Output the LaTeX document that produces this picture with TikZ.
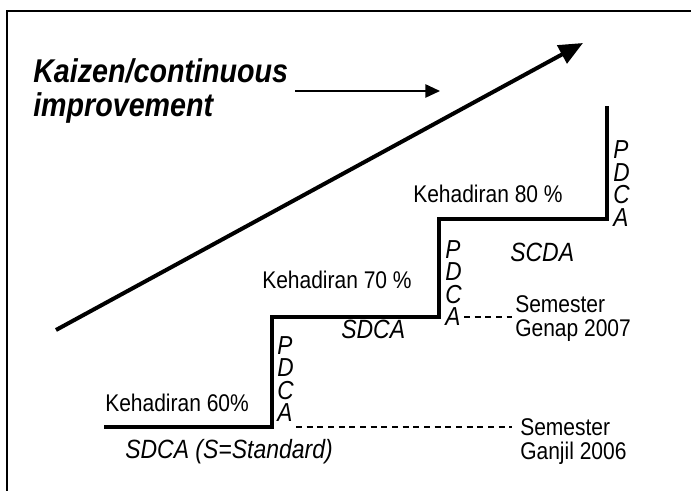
\documentclass[tikz,border=0pt]{standalone}
\usepackage{fontspec}
\setmainfont{Liberation Sans}
\newfontfamily\narrowsans[FakeStretch=0.87]{Liberation Sans}
\usetikzlibrary{arrows.meta}
\tikzset{
  stair/.style={line width=3pt},
  lbl/.style={inner sep=0pt, anchor=base west, font=\narrowsans\fontsize{18.1}{20}\selectfont},
  slbl/.style={inner sep=0pt, anchor=base west, font=\narrowsans\fontsize{19.8}{22}\selectfont\itshape},
  pdca/.style={inner sep=0pt, anchor=north west, align=left, font=\narrowsans\fontsize{19.5}{16.875}\selectfont\itshape},
  kaizen/.style={inner sep=0pt, anchor=base west, font=\narrowsans\fontsize{24.7}{28}\selectfont\bfseries\itshape},
  guide/.style={line width=0.8pt, dash pattern=on 4.5pt off 3.5pt}
}
\begin{document}
\begin{tikzpicture}[x=0.75pt,y=-0.75pt]
\useasboundingbox (0,0) rectangle (691,491);
\clip (0,0) rectangle (691,491);
\draw[line width=1pt] (7,11) rectangle (720,520);

% title and the rising arrow
\node[kaizen] (kz1) at (33,83) {Kaizen/continuous};
\node[kaizen] (kz2) at (33,117) {improvement};
\coordinate (ka) at (295,91);
\coordinate (kb) at (440,91);
\draw[line width=1.2pt, -{Triangle[length=11pt,width=10pt]}] (ka) -- (kb);

\coordinate (rise0) at (56,330);
\coordinate (rise1) at (583,43);
\draw[line width=3pt, -{Triangle[length=18pt,width=15pt]}] (rise0) -- (rise1);

% the steps
\draw[stair] (104,427) -| (272,317) -| (439,219) -| (607,106);

\node[lbl] (k60) at (105,411) {Kehadiran 60\%};
\node[lbl] (k70) at (262,288) {Kehadiran 70 \%};
\node[lbl] (k80) at (413,203) {Kehadiran 80 \%};

\node[slbl] (sd1) at (125,458) {SDCA (S=Standard)};
\node[slbl] (sd2) at (341,338) {SDCA};
\node[slbl] (sd3) at (510,262) {SCDA};

\node[pdca] (pdca1) at (277,336) {P\\D\\C\\A};
\node[pdca] (pdca2) at (445,240) {P\\D\\C\\A};
\node[pdca] (pdca3) at (613,140.5) {P\\D\\C\\A};

% semesters
\node[lbl] (sem1) at (520,435) {Semester};
\node[lbl] (gan1) at (520,459) {Ganjil 2006};
\node[lbl] (sem2) at (515,312) {Semester};
\node[lbl] (gen2) at (515,336) {Genap 2007};

\coordinate (d1) at (296,427);
\coordinate (d2) at (464,317);
\draw[guide, shorten >=6pt] (d1) -- (d1 -| sem1.west);
\draw[guide, shorten >=2pt] (d2) -- (d2 -| sem2.west);

\end{tikzpicture}
\end{document}
